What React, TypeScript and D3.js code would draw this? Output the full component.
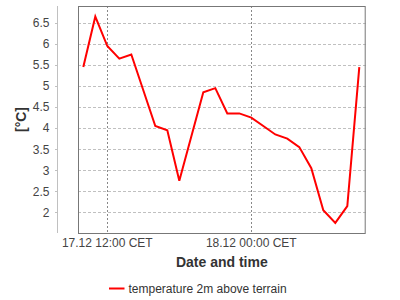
import React from "react";
import * as d3 from "d3";

// hours since 17.12 00:00
const hours = [10, 11, 12, 13, 14, 15, 16, 17, 18, 19, 20, 21, 22, 23, 24, 25, 26, 27, 28, 29, 30, 31, 32, 33];
const temps = [5.45, 6.65, 5.95, 5.65, 5.75, 4.9, 4.05, 3.95, 2.75, 3.8, 4.85, 4.95, 4.35, 4.35, 4.25, 4.05, 3.85, 3.75, 3.55, 3.05, 2.05, 1.75, 2.15, 5.45];
const yTicks = [2, 2.5, 3, 3.5, 4, 4.5, 5, 5.5, 6, 6.5];
const xTickHours = [12, 24];
const xTickLabels = ["17.12 12:00 CET", "18.12 00:00 CET"];

const W = 400;
const H = 300;
const plot = { left: 78, right: 365.7, top: 6, bottom: 233 };
const font = "Arial, 'Liberation Sans', sans-serif";

export default function App() {
  const base = new Date(2020, 11, 17, 0, 0, 0).getTime();
  const toDate = (h: number) => new Date(base + h * 3600 * 1000);
  const x = d3.scaleTime().domain([toDate(9.558), toDate(33.533)]).range([plot.left, plot.right]);
  const y = d3.scaleLinear().domain([1.51, 6.9]).range([plot.bottom, plot.top]);
  const data = hours.map((h, i) => ({ t: toDate(h), v: temps[i] }));
  const line = d3
    .line<{ t: Date; v: number }>()
    .x((d) => x(d.t))
    .y((d) => y(d.v));

  const axisX = 57;
  const midX = (plot.left + plot.right) / 2;
  const midY = (plot.top + plot.bottom) / 2;

  return (
    <svg width={W} height={H} style={{ position: "absolute", left: 0, top: 0, fontFamily: font }}>
      <rect x={0} y={0} width={W} height={H} fill="#fff" />
      {/* horizontal grid */}
      {yTicks.map((t) => (
        <line
          key={"g" + t}
          x1={plot.left}
          x2={plot.right}
          y1={Math.round(y(t)) + 0.5}
          y2={Math.round(y(t)) + 0.5}
          stroke="#c0c0c0"
          strokeDasharray="3,2"
        />
      ))}
      {/* vertical grid */}
      {xTickHours.map((h) => (
        <line
          key={"v" + h}
          x1={Math.round(x(toDate(h))) + 0.5}
          x2={Math.round(x(toDate(h))) + 0.5}
          y1={plot.top}
          y2={plot.bottom}
          stroke="#888"
          strokeDasharray="2,2"
        />
      ))}
      {/* y axis */}
      <line x1={axisX + 0.5} x2={axisX + 0.5} y1={plot.top} y2={plot.bottom} stroke="#c0c0c0" />
      {yTicks.map((t) => (
        <g key={"yt" + t}>
          <line
            x1={axisX - 2}
            x2={axisX}
            y1={Math.round(y(t)) + 0.5}
            y2={Math.round(y(t)) + 0.5}
            stroke="#c0c0c0"
          />
          <text x={49.5} y={y(t)} dy="0.36em" textAnchor="end" fontSize={12} fill="#444">
            {t}
          </text>
        </g>
      ))}
      {/* x tick labels */}
      {xTickHours.map((h, i) => (
        <text key={"xt" + h} x={x(toDate(h))} y={247} textAnchor="middle" fontSize={12} fill="#444">
          {xTickLabels[i]}
        </text>
      ))}
      {/* data line */}
      <path d={line(data) || ""} fill="none" stroke="#ff0000" strokeWidth={2} strokeLinejoin="miter" />
      {/* plot border */}
      <rect
        x={plot.left + 0.5}
        y={plot.top + 0.5}
        width={plot.right - plot.left - 1}
        height={plot.bottom - plot.top}
        fill="none"
        stroke="#777"
      />
      {/* axis titles */}
      <text x={midX} y={267} textAnchor="middle" fontSize={14} fontWeight="bold" fill="#333">
        Date and time
      </text>
      <text
        transform={`translate(26,${midY}) rotate(-90)`}
        textAnchor="middle"
        fontSize={14}
        fontWeight="bold"
        fill="#333"
      >
        [°C]
      </text>
      {/* legend */}
      <line x1={109} x2={124.5} y1={288.5} y2={288.5} stroke="#ff0000" strokeWidth={2} />
      <text x={128.5} y={293} fontSize={12} fill="#333">
        temperature 2m above terrain
      </text>
    </svg>
  );
}
